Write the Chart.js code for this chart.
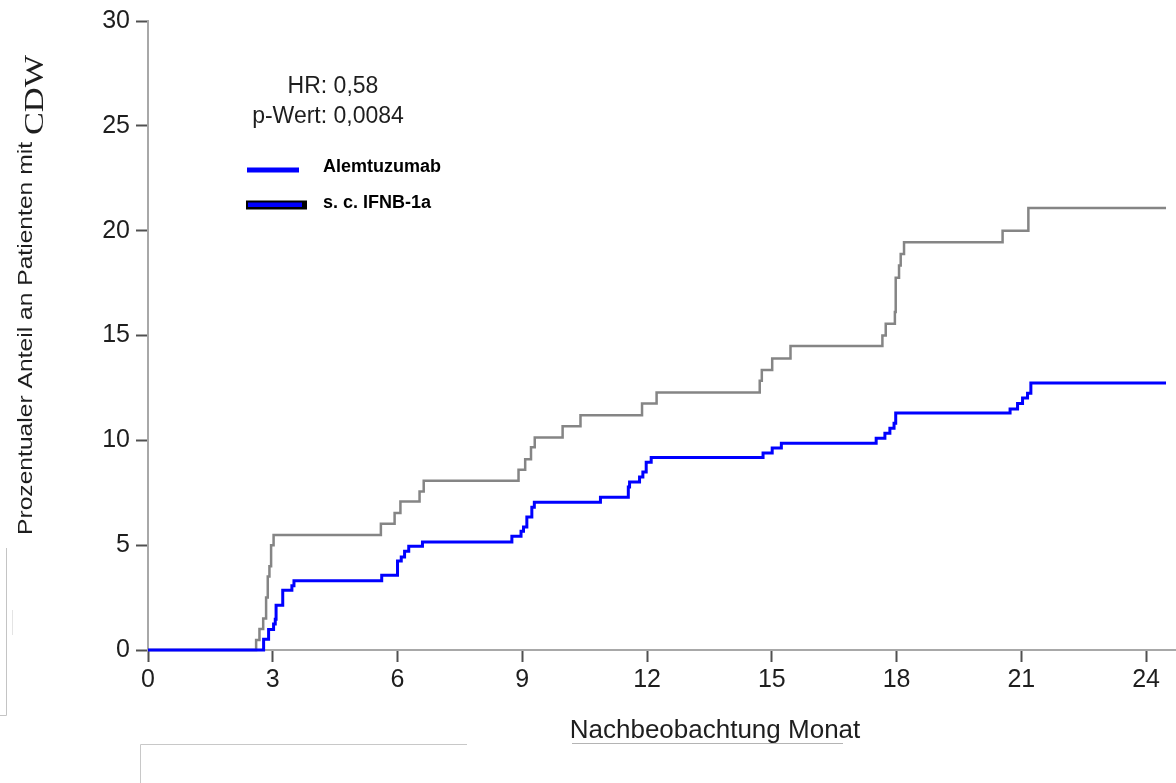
<!DOCTYPE html>
<html><head><meta charset="utf-8">
<script src="https://cdn.jsdelivr.net/npm/chart.js@4.4.1/dist/chart.umd.min.js"></script>
<style>html,body{margin:0;padding:0;background:#fff;overflow:hidden}#wrap{width:1176px;height:783px;position:relative}</style>
</head><body><div id="wrap"><canvas id="c" width="1176" height="783"></canvas></div>
<script>
// ---- data ----
const xTicks = [0, 3, 6, 9, 12, 15, 18, 21, 24];
const yTicks = [0, 5, 10, 15, 20, 25, 30];
const seriesNames = ['Alemtuzumab', 's. c. IFNB-1a'];
const hrLines = ['HR: 0,58', 'p-Wert: 0,0084'];
const xTitle = 'Nachbeobachtung Monat';
const yTitleMain = 'Prozentualer Anteil an Patienten mit';
const yTitleUnit = 'CDW';

const alemMonths = [0, 2.78, 2.9, 3.02, 3.06, 3.08, 3.24, 3.46, 3.51, 5.62, 6.0, 6.09, 6.17, 6.27, 6.6,
  8.75, 8.97, 9.03, 9.11, 9.23, 9.29, 10.88, 11.55, 11.58, 11.82, 11.9, 11.98, 12.1,
  14.79, 15.01, 15.23, 17.51, 17.72, 17.84, 17.94, 17.98, 20.73, 20.91, 21.03, 21.15, 21.23, 24.48];
const alemPct = [0, 0.51, 0.98, 1.24, 1.47, 2.14, 2.85, 3.06, 3.3, 3.57, 4.25, 4.44, 4.71, 4.95, 5.15,
  5.42, 5.66, 5.87, 6.34, 6.81, 7.05, 7.29, 7.77, 8.01, 8.25, 8.49, 8.96, 9.18,
  9.4, 9.64, 9.86, 10.1, 10.34, 10.58, 10.81, 11.3, 11.49, 11.76, 12.02, 12.24, 12.73, 12.73];

const ifnbMonths = [0, 2.6, 2.68, 2.77, 2.84, 2.88, 2.92, 2.96, 3.02, 5.6, 5.93, 6.07, 6.53, 6.63,
  8.91, 9.07, 9.21, 9.3, 9.97, 10.4, 11.88, 12.23, 14.71, 14.76, 15.01, 15.45,
  17.66, 17.74, 17.96, 17.98, 18.06, 18.1, 18.18, 20.55, 21.17, 24.48];
const ifnbPct = [0, 0.48, 1.0, 1.5, 2.5, 3.5, 4.0, 5.0, 5.48, 6.02, 6.53, 7.08, 7.56, 8.07,
  8.6, 9.1, 9.67, 10.14, 10.67, 11.2, 11.76, 12.28, 12.84, 13.36, 13.9, 14.5,
  15.0, 15.56, 16.12, 17.75, 18.34, 18.89, 19.45, 20.0, 21.08, 21.08];

// ---- styling ----
const SANS = '"Liberation Sans", Arial, Helvetica, sans-serif';
const SERIF = '"Liberation Serif", "Times New Roman", serif';
const BLUE = '#0000ff';
const GRAY = '#858585';

const toXY = (xs, ys) => xs.map((x, i) => ({ x: x, y: ys[i] }));

const decor = {
  id: 'decor',
  afterDraw(chart) {
    const ctx = chart.ctx;
    ctx.save();
    // stray frame lines from the source image
    ctx.strokeStyle = '#c4c4c4'; ctx.lineWidth = 1;
    ctx.beginPath(); ctx.moveTo(6.5, 548); ctx.lineTo(6.5, 715.5); ctx.lineTo(0, 715.5); ctx.stroke();
    ctx.strokeStyle = '#e4e4e4';
    ctx.beginPath(); ctx.moveTo(12.5, 610); ctx.lineTo(12.5, 635); ctx.stroke();
    ctx.strokeStyle = '#c8c8c8';
    ctx.beginPath(); ctx.moveTo(140.5, 783); ctx.lineTo(140.5, 744.5); ctx.lineTo(467, 744.5); ctx.stroke();
    ctx.strokeStyle = '#b4b4b4';
    ctx.beginPath(); ctx.moveTo(572, 743.5); ctx.lineTo(843, 743.5); ctx.stroke();

    // x title
    ctx.fillStyle = '#1e1e1e';
    ctx.font = '26px ' + SANS;
    ctx.textAlign = 'center'; ctx.textBaseline = 'middle';
    ctx.fillText(xTitle, 715, 731);

    // y title (rotated, two fonts)
    ctx.save();
    ctx.translate(0, 535);
    ctx.rotate(-Math.PI / 2);
    ctx.textAlign = 'left'; ctx.textBaseline = 'alphabetic';
    ctx.font = '21px ' + SANS;
    const w1 = ctx.measureText(yTitleMain).width;
    ctx.save(); ctx.scale(393 / w1, 1); ctx.fillText(yTitleMain, 0, 32); ctx.restore();
    ctx.font = '27px ' + SERIF;
    const w2 = ctx.measureText(yTitleUnit).width;
    ctx.save(); ctx.translate(400, 0); ctx.scale(80 / w2, 1); ctx.fillText(yTitleUnit, 0, 43); ctx.restore();
    ctx.restore();

    // HR / p-value text
    ctx.font = '23px ' + SANS;
    ctx.textAlign = 'center'; ctx.textBaseline = 'middle';
    ctx.fillText(hrLines[0], 333, 87);
    ctx.fillText(hrLines[1], 328, 117);

    // legend
    ctx.fillStyle = BLUE;
    ctx.fillRect(247, 167.5, 52, 5);
    ctx.fillStyle = '#000';
    ctx.fillRect(246, 200.5, 61, 9);
    ctx.fillStyle = BLUE;
    ctx.fillRect(248, 202.5, 54, 4.5);
    ctx.fillStyle = '#000';
    ctx.font = 'bold 18px ' + SANS;
    ctx.textAlign = 'left'; ctx.textBaseline = 'middle';
    ctx.fillText(seriesNames[0], 323, 167);
    ctx.fillText(seriesNames[1], 323, 203);
    ctx.restore();
  }
};

const axisCommon = {
  border: { display: true, color: '#a8a8a8', width: 2 },
  grid: { display: true, drawOnChartArea: false, drawTicks: true, tickLength: 12, tickWidth: 2, tickColor: '#505050', color: '#505050' },
};

new Chart(document.getElementById('c'), {
  type: 'line',
  data: {
    datasets: [
      { label: seriesNames[0], data: toXY(alemMonths, alemPct), borderColor: BLUE, borderWidth: 3,
        stepped: 'before', pointRadius: 0, fill: false, clip: 6 },
      { label: seriesNames[1], data: toXY(ifnbMonths, ifnbPct), borderColor: GRAY, borderWidth: 2.5,
        stepped: 'before', pointRadius: 0, fill: false, clip: 6 }
    ]
  },
  options: {
    responsive: false,
    animation: false,
    devicePixelRatio: 1,
    layout: { padding: { top: 20, right: 0, left: 0, bottom: 0 } },
    plugins: { legend: { display: false }, tooltip: { enabled: false }, title: { display: false } },
    scales: {
      x: Object.assign({}, axisCommon, {
        type: 'linear', min: 0, max: 24.72,
        afterBuildTicks: s => { s.ticks = xTicks.map(v => ({ value: v })); },
        afterFit: s => { s.height = 133; },
        ticks: { color: '#1e1e1e', font: { size: 25, family: SANS }, padding: 3, maxRotation: 0, autoSkip: false }
      }),
      y: Object.assign({}, axisCommon, {
        type: 'linear', min: 0, max: 30,
        afterBuildTicks: s => { s.ticks = yTicks.map(v => ({ value: v })); },
        afterFit: s => { s.width = 148; },
        ticks: { color: '#1e1e1e', font: { size: 25, family: SANS }, padding: 6, autoSkip: false }
      })
    }
  },
  plugins: [decor]
});
</script>
</body></html>
